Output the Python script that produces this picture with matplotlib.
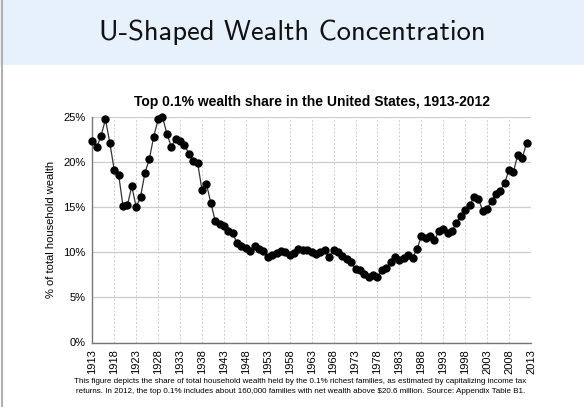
import matplotlib
matplotlib.use("Agg")
import matplotlib.pyplot as plt
from matplotlib.patches import Rectangle
from matplotlib.lines import Line2D

years = list(range(1913, 2013))
share = [
    22.3, 21.6, 22.9, 24.7, 22.1, 19.1, 18.6, 15.1, 15.2, 17.3,   # 1913-1922
    15.0, 16.1, 18.8, 20.3, 22.8, 24.7, 25.0, 23.1, 21.7, 22.5,   # 1923-1932
    22.3, 21.9, 20.9, 20.1, 19.9, 16.9, 17.6, 15.5, 13.5, 13.1,   # 1933-1942
    12.9, 12.4, 12.1, 11.0, 10.7, 10.5, 10.1, 10.7, 10.3, 10.1,   # 1943-1952
    9.5, 9.7, 9.9, 10.1, 10.0, 9.7, 9.9, 10.3, 10.2, 10.2,        # 1953-1962
    10.0, 9.8, 10.0, 10.2, 9.5, 10.2, 10.0, 9.6, 9.3, 8.9,        # 1963-1972
    8.1, 8.0, 7.6, 7.3, 7.5, 7.2, 8.0, 8.2, 8.9, 9.5,             # 1973-1982
    9.1, 9.4, 9.7, 9.4, 10.3, 11.8, 11.6, 11.8, 11.3, 12.4,       # 1983-1992
    12.6, 12.1, 12.4, 13.2, 14.0, 14.7, 15.2, 16.1, 15.9, 14.6,   # 1993-2002
    14.8, 15.7, 16.4, 16.8, 17.7, 19.1, 18.9, 20.8, 20.4, 22.1,   # 2003-2012
]
xticks = list(range(1913, 2014, 5))
yticks = [0, 5, 10, 15, 20, 25]
ytick_labels = ["0%", "5%", "10%", "15%", "20%", "25%"]

slide_title = "U-Shaped Wealth Concentration"
chart_title = "Top 0.1% wealth share in the United States, 1913-2012"
y_label = "% of total household wealth"
caption = ("This figure depicts the share of total household wealth held by the 0.1% richest families, as estimated by capitalizing income tax\n"
           "returns. In 2012, the top 0.1% includes about 160,000 families with net wealth above $20.6 million. Source: Appendix Table B1.")

W, H = 584, 407
fig = plt.figure(figsize=(W / 100, H / 100), dpi=100)
fig.patch.set_facecolor("white")

# header band
fig.patches.append(Rectangle((0, 1 - 65 / H), 1, 65 / H, transform=fig.transFigure,
                             facecolor="#e7f1fc", edgecolor="none", zorder=0))
fig.lines.append(Line2D([2 / W, 2 / W], [0, 1], transform=fig.transFigure,
                        color="#b0b0b0", linewidth=1.5))
fig.text(0.5, 1 - 32 / H, slide_title, ha="center", va="center",
         fontsize=20.5, family=["cmss10", "DejaVu Sans"], color="#111111")

ax = fig.add_axes([92.3 / W, 1 - 342.5 / H, (531 - 92.3) / W, (342.5 - 116.7) / H])
ax.plot(years, share, color="#333333", linewidth=0.9, marker="o", markersize=5,
        markerfacecolor="black", markeredgecolor="black", zorder=3, clip_on=False)
ax.set_xlim(1913, 2013)
ax.set_ylim(0, 25)
ax.set_xticks(xticks)
ax.set_xticklabels([str(x) for x in xticks], rotation=90, fontsize=8,
                   family=["Liberation Sans", "DejaVu Sans"])
ax.set_yticks(yticks)
ax.set_yticklabels(ytick_labels, fontsize=8, family=["Liberation Sans", "DejaVu Sans"])
ax.tick_params(axis="both", length=0, pad=5)
ax.yaxis.grid(True, color="#cccccc", linewidth=0.9, linestyle="-")
ax.xaxis.grid(True, color="#cccccc", linewidth=0.7, linestyle=(0, (2, 2)))
ax.set_axisbelow(True)
for s in ["top", "right"]:
    ax.spines[s].set_visible(False)
for s in ["left", "bottom"]:
    ax.spines[s].set_color("#777777")
    ax.spines[s].set_linewidth(1.0)
ax.set_ylabel(y_label, fontsize=8, family=["Liberation Sans", "DejaVu Sans"], labelpad=5)
ax.set_title(chart_title, fontsize=10, fontweight="bold",
             family=["Liberation Sans", "DejaVu Sans"], pad=8)

fig.text(0.514, 1 - 386.5 / H, caption, ha="center", va="center", fontsize=5.8,
         family=["Liberation Sans", "DejaVu Sans"], linespacing=1.45)

fig.savefig("out.png", dpi=100)
